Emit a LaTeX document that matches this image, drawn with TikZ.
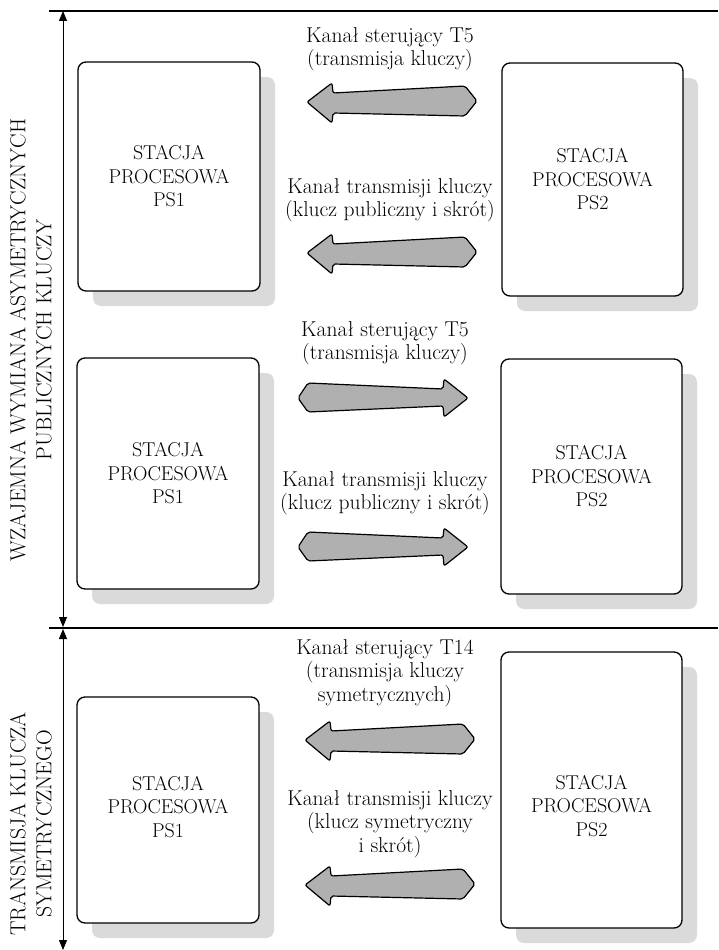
\documentclass[tikz,border=0pt]{standalone}
\usepackage{fontspec}
\usetikzlibrary{arrows.meta}
\definecolor{arrowgray}{HTML}{B0B0B0}
\definecolor{shadowgray}{HTML}{DADADA}
\newcommand\stationbox[7]{%
  % #1 name, #2 x1, #3 y1, #4 x2, #5 y2, #6 text, #7 downward text offset
  \fill[shadowfill] (#2+15,#3+15) rectangle (#4+15,#5+15);
  \node[stationnode, minimum width={(#4-#2)*1pt}, minimum height={(#5-#3)*1pt},
        label={[stationtext, yshift={-(#7)*1pt}]center:{#6}}] (#1) at ({(#2+#4)/2},{(#3+#5)/2}) {};}
\newcommand\bigleftarrow[2]{%
  \draw[bigarrow, shift={(#1,#2)}] (0,0) -- (25,-19) -- (26,-9) -- (158,-16) -- (170,-1) -- (158,14) -- (26,11) -- (25,21) -- cycle;}
\newcommand\bigrightarrow[2]{%
  \draw[bigarrow, shift={(#1,#2)}, xscale=-1] (0,0) -- (24,-19) -- (25,-9) -- (160,-15) -- (170,0) -- (160,14) -- (25,8) -- (24,19) -- cycle;}
\begin{document}
\begin{tikzpicture}[x=1pt,y=-1pt,
  stationnode/.style={draw, line width=1.3pt, rounded corners=8pt, fill=white, inner sep=0pt},
  stationtext/.style={align=center, inner sep=0pt, font=\fontsize{20}{23.5}\selectfont},
  shadowfill/.style={fill=shadowgray, rounded corners=8pt},
  chantext/.style={align=center, inner sep=0pt, font=\fontsize{21.5}{23.5}\selectfont},
  sidetext/.style={align=center, inner sep=0pt, rotate=90, font=\fontsize{21.7}{26}\selectfont},
  bigarrow/.style={draw=black, line width=1.2pt, fill=arrowgray, rounded corners=2pt, line join=round},
  dimline/.style={line width=1pt, {Triangle[length=10pt,width=8pt]}-{Triangle[length=10pt,width=8pt]}},
  sepline/.style={line width=1.3pt}
]
\useasboundingbox (0,0) rectangle (718,950);

% separators
\coordinate (h1a) at (49,11);
\coordinate (h1b) at (718,11);
\coordinate (h2a) at (49,628);
\coordinate (h2b) at (718,628);
\draw[sepline] (h1a) -- (h1b);
\draw[sepline] (h2a) -- (h2b);

% dimension arrows
\coordinate (d1t) at (63,11);
\coordinate (d1b) at (63,627);
\coordinate (d2t) at (63,629);
\coordinate (d2b) at (63,950);
\draw[dimline] (d1t) -- (d1b);
\draw[dimline] (d2t) -- (d2b);

% side texts
\node[sidetext] (side1) at (31,340) {WZAJEMNA WYMIANA ASYMETRYCZNYCH\\PUBLICZNYCH KLUCZY};
\node[sidetext] (side2) at (31,824) {TRANSMISJA KLUCZA\\SYMETRYCZNEGO};

% stations
\stationbox{l1}{78}{62}{260}{291}{STACJA\\PROCESOWA\\PS1}{0}
\stationbox{r1}{502}{63}{683}{296}{STACJA\\PROCESOWA\\PS2}{0}
\stationbox{l2}{77}{358}{259}{589}{STACJA\\PROCESOWA\\PS1}{0}
\stationbox{r2}{501}{359}{682}{594}{STACJA\\PROCESOWA\\PS2}{0}
\stationbox{l3}{77}{697}{259}{923}{STACJA\\PROCESOWA\\PS1}{-3}
\stationbox{r3}{501}{652}{682}{928}{STACJA\\PROCESOWA\\PS2}{16}

% channel texts
\node[chantext] (c1) at (390,49) {Kanał sterujący T5\\(transmisja kluczy)};
\node[chantext] (c2) at (390,200) {Kanał transmisji kluczy\\(klucz publiczny i skrót)};
\node[chantext] (c3) at (385,343) {Kanał sterujący T5\\(transmisja kluczy)};
\node[chantext] (c4) at (385,493) {Kanał transmisji kluczy\\(klucz publiczny i skrót)};
\node[chantext] (c5) at (385,673) {Kanał sterujący T14\\(transmisja kluczy\\symetrycznych)};
\node[chantext] (c6) at (390,824) {Kanał transmisji kluczy\\(klucz symetryczny\\i skrót)};

% big arrows
\bigleftarrow{307}{102}
\bigleftarrow{307}{253}
\bigrightarrow{468}{398}
\bigrightarrow{468}{547}
\bigleftarrow{305}{740}
\bigleftarrow{305}{885}
\end{tikzpicture}
\end{document}
